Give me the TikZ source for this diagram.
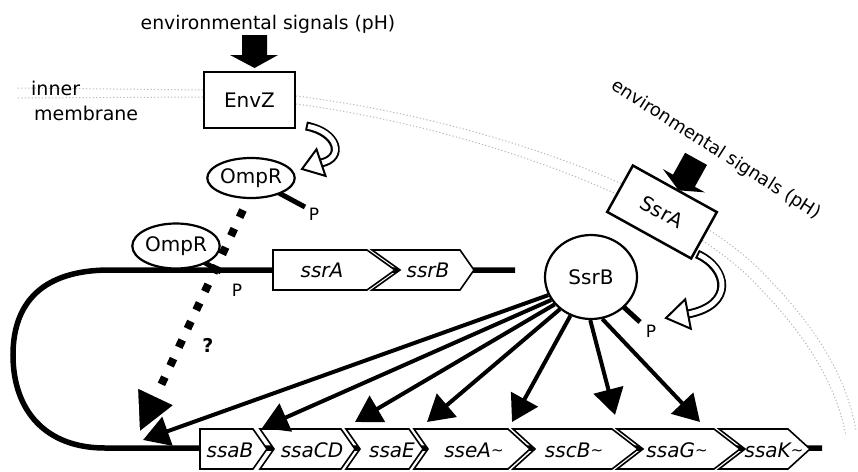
\documentclass[tikz,border=0pt]{standalone}
\usepackage{fontspec}
\setmainfont{DejaVu Sans}
\usetikzlibrary{arrows.meta,shapes.geometric}
\tikzset{
 dna/.style={line width=5.5pt},
 gene/.style={draw, line width=1.6pt, fill=white, line join=miter},
 genetxt/.style={font=\fontsize{20}{22}\selectfont\itshape, inner sep=0pt},
 lbl/.style={font=\fontsize{20}{22}\selectfont, inner sep=0pt},
 sig/.style={font=\fontsize{18.8}{20}\selectfont, inner sep=0pt},
 memtxt/.style={font=\fontsize{19}{21}\selectfont, inner sep=0pt, anchor=west},
 ptxt/.style={font=\fontsize{17}{19}\selectfont, inner sep=0pt},
 prot/.style={ellipse, draw, line width=2.2pt, fill=white, inner sep=0pt},
 kbox/.style={draw, line width=2.5pt, fill=white, inner sep=0pt},
 act/.style={line width=4pt, -{Triangle[length=26pt,width=30pt]}},
 stick/.style={line width=5pt},
 memb/.style={gray!55, line width=1pt, dash pattern=on 1.2pt off 2.2pt},
 hollowout/.style={line width=9pt},
 hollowin/.style={line width=5pt, white, shorten <=2pt},
 hollowhead/.style={fill=white, draw=black, line width=2pt, line join=miter},
 dots/.style={line width=8pt, dash pattern=on 8pt off 12.5pt},
}
\newcommand{\mygene}[5]{%
 \draw[gene] (#1,{#5-20}) -- (#2,{#5-20}) -- ({#2+#3},#5) -- (#2,{#5+20}) -- (#1,{#5+20}) -- ({#1+#4},#5) -- cycle;}
\newcommand{\tld}{\raisebox{1.5pt}{\fontsize{15}{15}\selectfont\char`\~}}
\begin{document}
\begin{tikzpicture}[x=1pt,y=-1pt]
\fill[white] (0,0) rectangle (858,471);
\useasboundingbox (0,0) rectangle (858,471);

% membrane
\draw[memb] (18,88) -- (205,90);
\draw[memb] (18,98) -- (205,97);
\draw[memb] (296,96) .. controls (480,119) and (680,190) .. (760,270) .. controls (810,320) and (845,370) .. (856,430);
\draw[memb] (296,104) .. controls (475,128) and (670,200) .. (750,278) .. controls (800,328) and (835,378) .. (846,436);

% EnvZ and its signal
\node[sig] (envtxt) at (268,24) {environmental signals (pH)};
\fill (242,35) -- (267,35) -- (267,55) -- (278,55) -- (254.5,68) -- (230,55) -- (242,55) -- cycle;
\node[kbox, lbl, minimum width=91pt, minimum height=56pt] (envz) at (249.5,100) {EnvZ};
\node[memtxt] (inner) at (31,88) {inner};
\node[memtxt] (membrane) at (34,113) {membrane};

% hollow arrow EnvZ -> OmpR
\draw[hollowout] (306,126) .. controls (338,132) and (345,158) .. (321,163);
\draw[hollowin] (306,126) .. controls (338,132) and (345,158) .. (321,163);
\filldraw[hollowhead] (302,169) -- (316.5,149.3) -- (325.5,175.9) -- cycle;

% upper OmpR
\coordinate (p1end) at (305,207);
\draw[stick] (251,178) -- (p1end);
\node[prot, lbl, minimum width=78pt, minimum height=40pt] (ompr1) at (251,178) {OmpR};
\node[ptxt] (p1) at (314,214) {P};

% DNA
\draw[dna] (515,270) -- (110,270) .. controls (35,270) and (13,310) .. (13,355) .. controls (13,410) and (45,448) .. (105,448) -- (822,448);

% top genes
\mygene{273}{367}{28}{0}{270}
\mygene{372}{460}{14}{28}{270}
\node[genetxt] (ssrA) at (322,270) {ssrA};
\node[genetxt] (ssrB) at (428,270) {ssrB};

% bottom genes
\mygene{200}{253}{14}{0}{449}
\mygene{260}{341}{14}{14}{449}
\mygene{346}{409}{14}{14}{449}
\mygene{414}{508}{22}{14}{449}
\mygene{513}{612}{26}{22}{449}
\mygene{617}{714}{26}{26}{449}
\mygene{719}{788}{22}{26}{449}
\node[genetxt] (ssaB) at (230,450) {ssaB};
\node[genetxt] (ssaCD) at (312,450) {ssaCD};
\node[genetxt] (ssaE) at (392,450) {ssaE};
\node[genetxt] (sseA) at (474,450) {sseA\tld};
\node[genetxt] (sscB) at (574,450) {sscB\tld};
\node[genetxt] (ssaG) at (677,450) {ssaG\tld};
\node[genetxt] (ssaK) at (774,450) {ssaK\tld};

% lower OmpR
\coordinate (p2end) at (221,272);
\draw[stick] (176,246) -- (p2end);
\node[prot, lbl, minimum width=78pt, minimum height=45pt] (ompr2) at (176,246) {OmpR};
\node[ptxt] (p2) at (237,290) {P};

% SsrA with signal
\begin{scope}[shift={(662,212)}, rotate=-29]
 \fill (-8.5,-63) -- (16.5,-63) -- (16.5,-38) -- (28,-38) -- (4,-27) -- (-20,-38) -- (-8.5,-38) -- cycle;
 \node[kbox, lbl, rotate=-29, minimum width=96pt, minimum height=53pt] (ssra) at (0,0) {SsrA};
\end{scope}
\node[sig, font=\fontsize{18}{20}\selectfont, rotate=-32.5] (envtxt2) at (716,150) {environmental signals (pH)};

% hollow arrow SsrA -> SsrB
\draw[hollowout] (697,254) .. controls (728,268) and (735,305) .. (688,314);
\draw[hollowin] (697,254) .. controls (728,268) and (735,305) .. (688,314);
\filldraw[hollowhead] (666,318) -- (685.2,299.3) -- (690.8,328.7) -- cycle;

% SsrB
\coordinate (p3end) at (640,322);
\draw[stick] (591,277) -- (p3end);
\node[prot, lbl, minimum width=92pt, minimum height=84pt] (ssrb) at (591,277) {SsrB};
\node[ptxt] (p3) at (651,331) {P};

% SsrB activation arrows
\coordinate (ta) at (143,440);
\coordinate (tb) at (262,428);
\coordinate (tc) at (355,422);
\coordinate (td) at (427,422);
\coordinate (te) at (512,422);
\coordinate (tf) at (615,415);
\coordinate (tg) at (700,422);
\draw[act] (ssrb.203) -- (ta);
\draw[act] (ssrb.210) -- (tb);
\draw[act] (ssrb.217) -- (tc);
\draw[act] (ssrb.226) -- (td);
\draw[act] (ssrb.242) -- (te);
\draw[act] (ssrb.269) -- (tf);
\draw[act] (ssrb.285) -- (tg);

% OmpR -> ssa dotted arrow
\coordinate (ds) at (243,210);
\coordinate (de) at (156,396);
\draw[dots] (ds) -- (de);
\filldraw[fill=black, draw=white, line width=2pt, line join=miter] (137,387) -- (175,405) -- (139,433) -- cycle;
\node[font=\fontsize{19}{21}\selectfont\bfseries, inner sep=0pt] (q) at (208,345) {?};
\end{tikzpicture}
\end{document}
